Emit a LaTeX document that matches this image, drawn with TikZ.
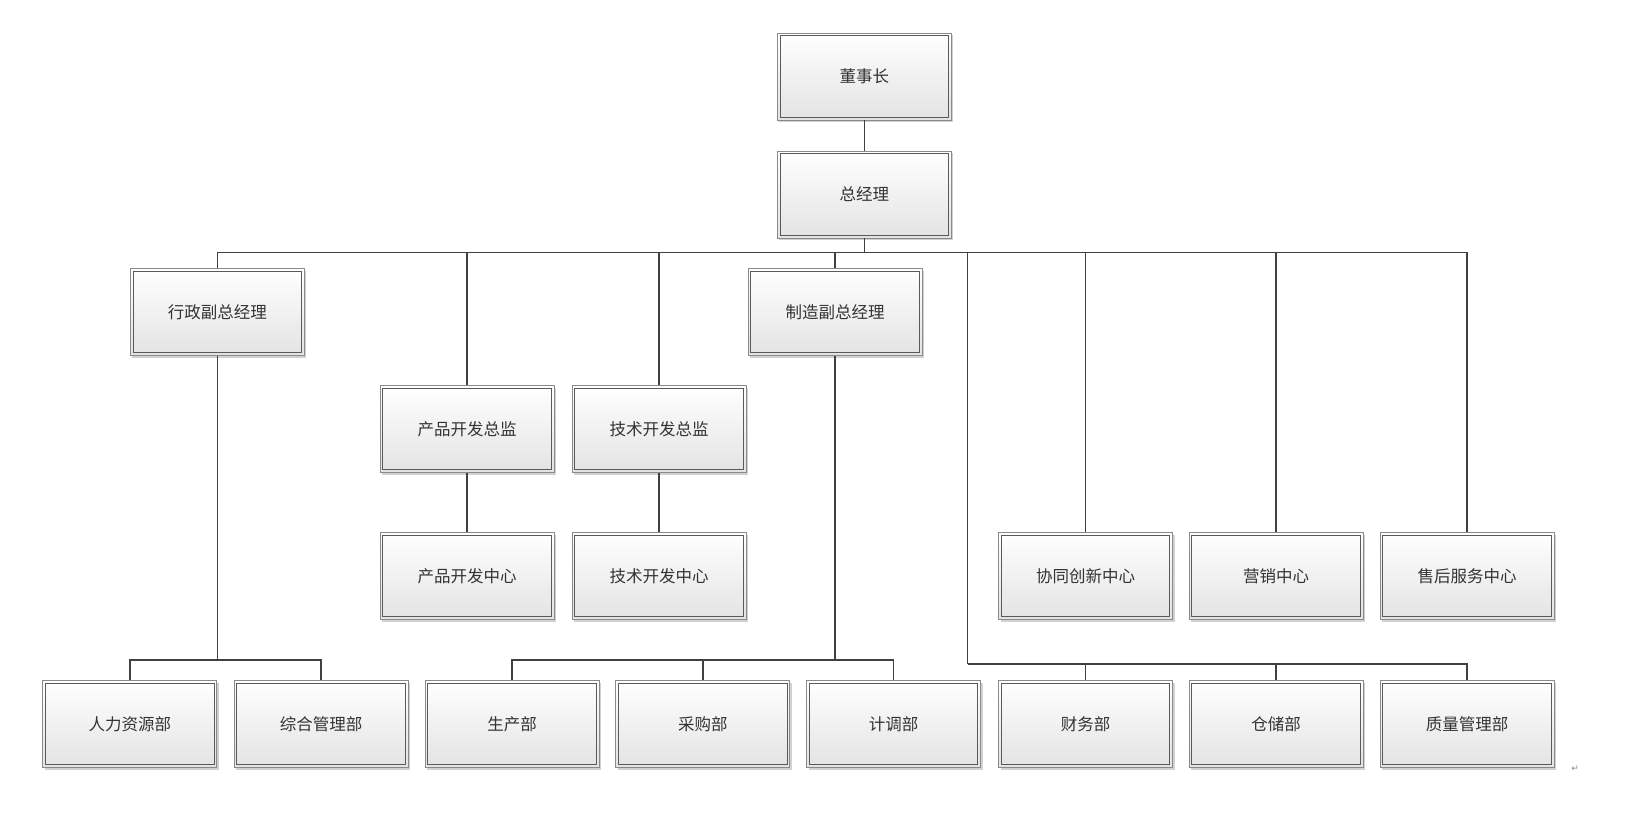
\documentclass[tikz,border=0pt]{standalone}
\usepackage{fontspec}
\newfontfamily\cjk{Noto Sans CJK SC}
\newfontfamily\dejavu{DejaVu Sans}
\usetikzlibrary{shadows,calc}
\definecolor{linec}{HTML}{404040}
\definecolor{boxo}{HTML}{8A8A8A}
\definecolor{boxi}{HTML}{5A5A5A}
\definecolor{txtc}{HTML}{333333}
\tikzset{
  orgbox/.style={draw=boxo, line width=0.9pt,
    top color=white, bottom color=black!11, minimum width=174pt, minimum height=87pt,
    font=\cjk\fontsize{16.5}{18}\selectfont, text=txtc,
    drop shadow={opacity=0.18, shadow xshift=2pt, shadow yshift=-2pt, fill=black}},
  innerbox/.style={draw=boxi, line width=0.9pt},
  conn/.style={draw=linec, line width=1.4pt},
}
\begin{document}
\begin{tikzpicture}[x=1pt,y=-1pt]
\useasboundingbox (0,0) rectangle (1635,822);
\fill[white] (0,0) rectangle (1635,822);
% top
\node[orgbox] (dsz) at (864.4,76.5) {董事长};
\node[orgbox] (zjl) at (864.4,194.5) {总经理};
% second level
\node[orgbox] (xz) at (217.4,312) {行政副总经理};
\node[orgbox] (zz) at (835,312) {制造副总经理};
\node[orgbox] (cpz) at (467,429) {产品开发总监};
\node[orgbox] (jsz) at (659,429) {技术开发总监};
\node[orgbox] (cpc) at (467,576) {产品开发中心};
\node[orgbox] (jsc) at (659,576) {技术开发中心};
\node[orgbox] (xt) at (1085.5,576) {协同创新中心};
\node[orgbox] (yx) at (1276,576) {营销中心};
\node[orgbox] (sh) at (1467,576) {售后服务中心};
% bottom
\node[orgbox] (rl) at (129.8,724) {人力资源部};
\node[orgbox] (zh) at (321,724) {综合管理部};
\node[orgbox] (sc) at (512,724) {生产部};
\node[orgbox] (cg) at (702.8,724) {采购部};
\node[orgbox] (jd) at (893.6,724) {计调部};
\node[orgbox] (cw) at (1085.5,724) {财务部};
\node[orgbox] (cc) at (1276,724) {仓储部};
\node[orgbox] (zl) at (1467,724) {质量管理部};
% inner borders
\foreach \n in {dsz,zjl,xz,zz,cpz,jsz,cpc,jsc,xt,yx,sh,rl,zh,sc,cg,jd,cw,cc,zl}
  \draw[innerbox] ($(\n.south west)+(3.2pt,3.2pt)$) rectangle ($(\n.north east)+(-3.2pt,-3.2pt)$);
% bus coordinates
\coordinate (bus) at (864.4,252.5);
\coordinate (xb) at (217.4,660);
\coordinate (zb) at (835,660);
\coordinate (rb) at (967.6,664);
% connectors
\draw[conn] (dsz.south) -- (zjl.north);
\draw[conn] (zjl.south) -- (bus);
\draw[conn, line width=1.8pt] (xz.north) |- (bus) -| (sh.north);
\draw[conn] (cpz.north) -- (cpz.north |- bus);
\draw[conn] (jsz.north) -- (jsz.north |- bus);
\draw[conn] (zz.north) -- (zz.north |- bus);
\draw[conn] (xt.north) -- (xt.north |- bus);
\draw[conn] (yx.north) -- (yx.north |- bus);
\draw[conn] (rb |- bus) -- (rb);
\draw[conn] (cpz.south) -- (cpc.north);
\draw[conn] (jsz.south) -- (jsc.north);
\draw[conn] (xz.south) -- (xb);
\draw[conn] (rl.north) |- (xb) -| (zh.north);
\draw[conn] (zz.south) -- (zb);
\draw[conn] (sc.north) |- (zb) -| (jd.north);
\draw[conn] (cg.north) -- (cg.north |- zb);
\draw[conn] (rb) -| (zl.north);
\draw[conn] (cw.north) -- (cw.north |- rb);
\draw[conn] (cc.north) -- (cc.north |- rb);
% paragraph mark
\node[text=black!45, font=\dejavu\fontsize{9}{10}\selectfont] (pm) at (1575,769) {↵};
\end{tikzpicture}
\end{document}
